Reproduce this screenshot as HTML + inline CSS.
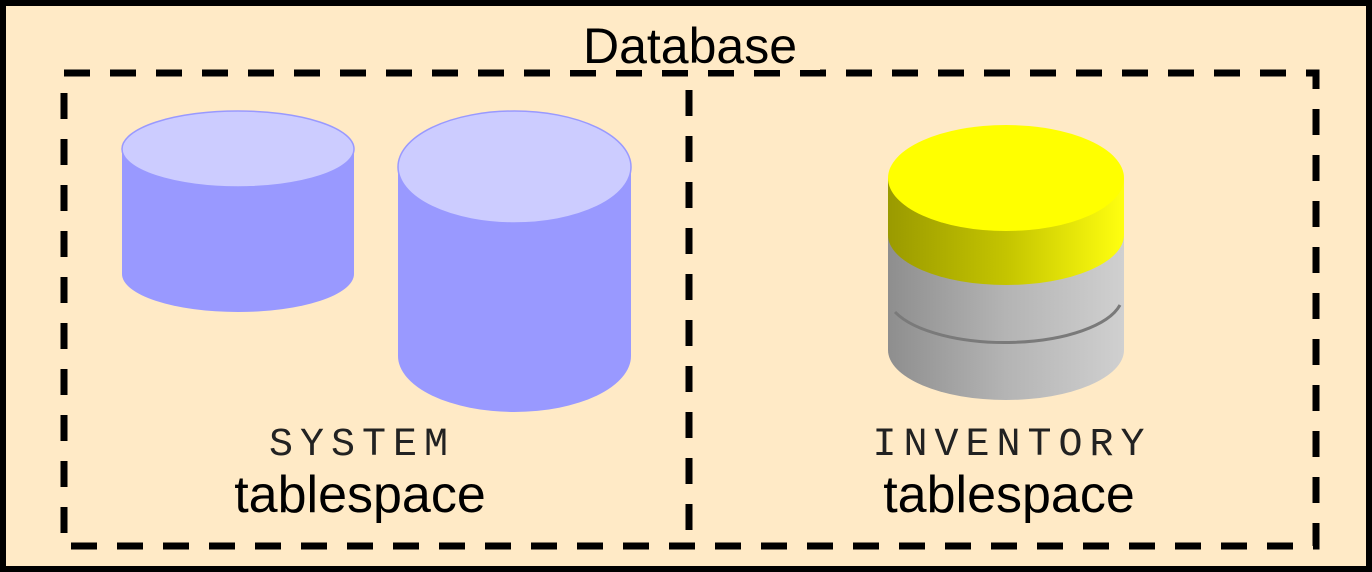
<!DOCTYPE html>
<html><head><meta charset="utf-8"><style>
html,body{margin:0;padding:0;width:1372px;height:572px;overflow:hidden;background:#fff}
</style></head><body>
<svg width="1372" height="572" viewBox="0 0 1372 572" xmlns="http://www.w3.org/2000/svg">
<defs>
<linearGradient id="yg" x1="0" x2="1" y1="0" y2="0">
<stop offset="0" stop-color="#9a9a00"/><stop offset="0.5" stop-color="#c4c400"/><stop offset="1" stop-color="#ffff10"/>
</linearGradient>
<linearGradient id="gg" x1="0" x2="1" y1="0" y2="0">
<stop offset="0" stop-color="#8e8e8e"/><stop offset="0.5" stop-color="#b4b4b4"/><stop offset="1" stop-color="#d0d0d0"/>
</linearGradient>
</defs>
<rect x="3" y="3" width="1366" height="566" fill="#FFEAC6" stroke="#000" stroke-width="6"/>
<rect x="64" y="73" width="1252" height="473" fill="none" stroke="#000" stroke-width="7" stroke-dasharray="26,20"/>
<line x1="689" y1="90" x2="689" y2="530" stroke="#000" stroke-width="7" stroke-dasharray="26,20"/>
<rect x="560" y="20" width="260" height="50" fill="#FFEAC6"/>
<text x="690" y="63" font-family="Liberation Sans, sans-serif" font-size="50" text-anchor="middle">Database</text>

<path d="M122 149 L122 274 A116 38 0 0 0 354 274 L354 149 Z" fill="#9999FF"/>
<ellipse cx="238" cy="149" rx="116" ry="38" fill="#CCCCFF" stroke="#9999FF" stroke-width="1.5"/>
<path d="M398 167 L398 356 A116.5 56 0 0 0 631 356 L631 167 Z" fill="#9999FF"/>
<ellipse cx="514.5" cy="167" rx="116.5" ry="56" fill="#CCCCFF" stroke="#9999FF" stroke-width="1.5"/>

<path d="M888 295 L888 350 A118 50 0 0 0 1124 350 L1124 295 Z" fill="url(#gg)"/>
<path d="M888 235 L888 295 A118 50 0 0 0 1124 295 L1124 235 Z" fill="url(#gg)"/>
<path d="M895 312 A118 48 0 0 0 1120 305" fill="none" stroke="#7a7a7a" stroke-width="3"/>
<path d="M888 178 L888 235 A118 50 0 0 0 1124 235 L1124 178 Z" fill="url(#yg)"/>
<ellipse cx="1006" cy="178" rx="118" ry="53" fill="#FFFF00"/>

<text x="362" y="455" font-family="Liberation Mono, monospace" font-size="40" fill="#222" text-anchor="middle" letter-spacing="7">SYSTEM</text>
<text x="360" y="512" font-family="Liberation Sans, sans-serif" font-size="52" text-anchor="middle">tablespace</text>
<text x="1012" y="455" font-family="Liberation Mono, monospace" font-size="40" fill="#222" text-anchor="middle" letter-spacing="7">INVENTORY</text>
<text x="1009" y="512" font-family="Liberation Sans, sans-serif" font-size="52" text-anchor="middle">tablespace</text>
</svg>
</body></html>
